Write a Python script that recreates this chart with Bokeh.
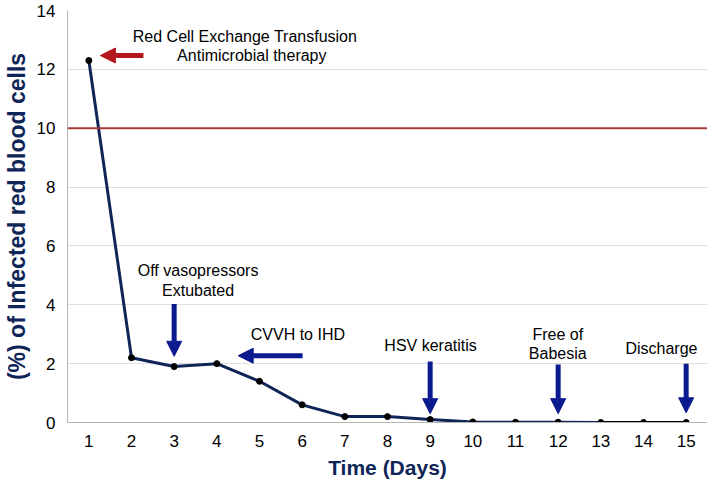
from bokeh.plotting import figure
from bokeh.models import Arrow, NormalHead, Span, Label, FixedTicker, Range1d
from bokeh.embed import file_html
from bokeh.resources import INLINE

# ---- data ----
days = [1, 2, 3, 4, 5, 6, 7, 8, 9, 10, 11, 12, 13, 14, 15]
infected_pct = [12.3, 2.2, 1.9, 2.0, 1.4, 0.6, 0.2, 0.2, 0.1, 0.02, 0.01, 0.01, 0.0, 0.0, 0.0]
y_ticks = [0, 2, 4, 6, 8, 10, 12, 14]
threshold = 10

# annotation texts (x, y in data units)
notes_text = ["Red Cell Exchange Transfusion", "Antimicrobial therapy",
              "Off vasopressors", "Extubated", "CVVH to IHD", "HSV keratitis",
              "Free of", "Babesia", "Discharge"]
notes_x = [4.66, 4.82, 3.56, 3.56, 5.9, 9.01, 11.99, 11.99, 14.42]
notes_y = [13.13, 12.47, 5.17, 4.5, 3.0, 2.63, 3.0, 2.33, 2.5]

# arrows: (x_start, y_start, x_end, y_end)
red_arrow = (2.28, 12.47, 1.27, 12.47)
blue_arrows = [
    (3.0, 4.03, 3.0, 2.25),
    (6.01, 2.27, 4.5, 2.27),
    (9.0, 2.07, 9.0, 0.3),
    (12.0, 1.97, 12.0, 0.3),
    (15.0, 2.0, 15.0, 0.33),
]

NAVY = "#0f2557"
FONT = "Liberation Sans"

p = figure(width=707, height=481, output_backend="svg", toolbar_location=None,
           x_range=Range1d(0.5, 15.5), y_range=Range1d(0, 14),
           min_border_left=50, min_border_right=0, min_border_top=10,
           min_border_bottom=50)
p.outline_line_color = None
p.background_fill_color = "white"

# axes
p.xaxis.ticker = FixedTicker(ticks=days)
p.yaxis.ticker = FixedTicker(ticks=y_ticks)
for ax in (p.xaxis[0], p.yaxis[0]):
    ax.major_tick_line_color = None
    ax.minor_tick_line_color = None
    ax.major_tick_out = 0
    ax.major_tick_in = 0
    ax.axis_line_color = "#b5b5b5"
    ax.axis_line_width = 1
    ax.major_label_text_font = FONT
    ax.major_label_text_font_size = "17px"
    ax.major_label_text_color = "black"
    ax.axis_label_text_font = FONT
    ax.axis_label_text_font_style = "bold"
    ax.axis_label_text_color = NAVY

p.xaxis.axis_label = "Time (Days)"
p.xaxis.axis_label_text_font_size = "21px"
p.xaxis.major_label_standoff = 12
p.xaxis.axis_label_standoff = 6

p.yaxis.axis_label = "(%) of Infected red blood cells"
p.yaxis.axis_label_text_font_size = "23px"
p.yaxis.major_label_standoff = 12
p.yaxis.axis_label_standoff = 4

p.xgrid.grid_line_color = None
p.ygrid.grid_line_color = "#dedede"
p.ygrid.grid_line_width = 1

# threshold line
p.add_layout(Span(location=threshold, dimension="width", line_color="#a83a3a",
                  line_width=2))

# series line: navy until day 13, black afterwards
split = days.index(13)
p.line(days[:split + 1], infected_pct[:split + 1], line_color=NAVY, line_width=3)
p.line(days[split:], infected_pct[split:], line_color="black", line_width=3)
p.scatter(days, infected_pct, size=6, fill_color="black", line_color="black")

# arrows
xs, ys, xe, ye = red_arrow
p.add_layout(Arrow(x_start=xs, y_start=ys, x_end=xe, y_end=ye,
                   line_color="#b3161b", line_width=5,
                   end=NormalHead(size=15, fill_color="#b3161b", line_color="#b3161b")))
for xs, ys, xe, ye in blue_arrows:
    p.add_layout(Arrow(x_start=xs, y_start=ys, x_end=xe, y_end=ye,
                       line_color="#0b1a8f", line_width=5,
                       end=NormalHead(size=15, fill_color="#0b1a8f", line_color="#0b1a8f")))

# annotation texts
for t, x, y in zip(notes_text, notes_x, notes_y):
    p.add_layout(Label(x=x, y=y, text=t, text_align="center", text_baseline="middle",
                       text_font=FONT, text_font_size="16px", text_color="black"))

open("out.html", "w").write(file_html(p, INLINE))
